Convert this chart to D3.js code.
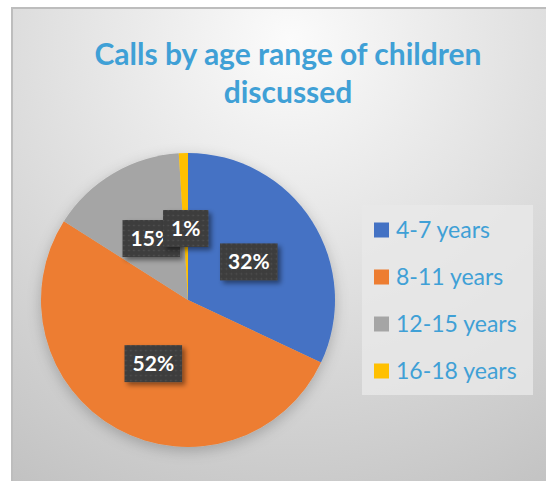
<!DOCTYPE html>
<html lang="en">
<head>
    <meta charset="UTF-8">
    <title>Calls by age range of children discussed</title>
    <style>
        body {
            margin: 0;
            padding: 0;
            background: #fff;
        }

        svg {
            display: block;
        }

        .title {
            font-family: Lato, "Open Sans", sans-serif;
            font-weight: bold;
            font-size: 30px;
            fill: #3fa0d6;
            text-anchor: middle;
        }

        .legend-text {
            font-family: Lato, "Open Sans", sans-serif;
            font-size: 23px;
            fill: #3fa0d6;
        }

        .pct {
            font-family: Lato, "Open Sans", sans-serif;
            font-weight: bold;
            font-size: 21px;
            fill: #fff;
            text-anchor: middle;
        }
    </style>
</head>
<body>
    <svg width="546" height="481"></svg>

    <script src="https://d3js.org/d3.v7.min.js"></script>
    <script>
        // chart data
        const categories = ["4-7 years", "8-11 years", "12-15 years", "16-18 years"];
        const values = [32, 52, 15, 1];
        const pctLabels = ["32%", "52%", "15%", "1%"];
        const colors = ["#4472c4", "#ed7d31", "#a5a5a5", "#ffc000"];

        const svg = d3.select("svg");
        const defs = svg.append("defs");

        // background gradient, light at the top, grey round the edges
        const bg = defs.append("radialGradient")
            .attr("id", "bg")
            .attr("gradientUnits", "userSpaceOnUse")
            .attr("cx", 290).attr("cy", 40).attr("r", 520);
        bg.append("stop").attr("offset", "0%").attr("stop-color", "#fbfbfb");
        bg.append("stop").attr("offset", "55%").attr("stop-color", "#dcdcdc");
        bg.append("stop").attr("offset", "100%").attr("stop-color", "#c2c2c2");

        // soft shadow for the pie and the label boxes
        const shadow = defs.append("filter").attr("id", "shadow")
            .attr("x", "-20%").attr("y", "-20%").attr("width", "140%").attr("height", "150%");
        shadow.append("feDropShadow")
            .attr("dx", 0).attr("dy", 4).attr("stdDeviation", 7)
            .attr("flood-color", "#000").attr("flood-opacity", 0.22);

        const boxShadow = defs.append("filter").attr("id", "boxShadow")
            .attr("x", "-30%").attr("y", "-30%").attr("width", "170%").attr("height", "180%");
        boxShadow.append("feDropShadow")
            .attr("dx", 3).attr("dy", 3).attr("stdDeviation", 2.5)
            .attr("flood-color", "#000").attr("flood-opacity", 0.45);

        // dotted dark fill of the label boxes
        const dots = defs.append("pattern")
            .attr("id", "dots")
            .attr("patternUnits", "userSpaceOnUse")
            .attr("width", 5).attr("height", 5);
        dots.append("rect").attr("width", 5).attr("height", 5).attr("fill", "#3e3e3e");
        dots.append("circle").attr("cx", 2.5).attr("cy", 2.5).attr("r", 0.8).attr("fill", "#525252");

        // chart frame
        svg.append("rect")
            .attr("x", 12).attr("y", 8)
            .attr("width", 545).attr("height", 485)
            .attr("fill", "url(#bg)")
            .attr("stroke", "#bdbdbd")
            .attr("stroke-width", 2);

        // title
        const title = svg.append("text").attr("class", "title")
            .attr("x", 288).attr("y", 65);
        title.append("tspan").attr("x", 288).text("Calls by age range of children");
        title.append("tspan").attr("x", 288).attr("dy", 38).text("discussed");

        // pie
        const cx = 188, cy = 300, radius = 147;
        const pie = d3.pie().sort(null).value(d => d)(values);
        const arc = d3.arc().innerRadius(0).outerRadius(radius);

        const g = svg.append("g").attr("transform", `translate(${cx},${cy})`);

        g.append("g").attr("filter", "url(#shadow)")
            .selectAll("path")
            .data(pie)
            .enter()
            .append("path")
            .attr("d", arc)
            .attr("fill", (d, i) => colors[i]);

        // data labels in dark boxes
        const labels = g.selectAll("g.lab")
            .data(pie)
            .enter()
            .append("g")
            .attr("class", "lab")
            .attr("transform", d => {
                const c = arc.centroid(d);
                return `translate(${c[0] * 0.98},${c[1] * 0.98})`;
            });

        labels.each(function (d, i) {
            const sel = d3.select(this);
            const rect = sel.append("rect").attr("fill", "url(#dots)").attr("filter", "url(#boxShadow)");
            const t = sel.append("text").attr("class", "pct").attr("y", 8).text(pctLabels[i]);
            const w = t.node().getComputedTextLength() + 16;
            rect.attr("x", -w / 2).attr("y", -18).attr("width", w).attr("height", 37);
        });

        // legend
        svg.append("rect")
            .attr("x", 362).attr("y", 205)
            .attr("width", 171).attr("height", 190)
            .attr("fill", "#e9e9e9")
            .attr("opacity", 0.8);

        const legend = svg.selectAll("g.leg")
            .data(categories)
            .enter()
            .append("g")
            .attr("class", "leg")
            .attr("transform", (d, i) => `translate(374,${230 + i * 47})`);

        legend.append("rect")
            .attr("x", 0).attr("y", -7.5)
            .attr("width", 15).attr("height", 15)
            .attr("fill", (d, i) => colors[i]);

        legend.append("text")
            .attr("class", "legend-text")
            .attr("x", 22).attr("y", 8)
            .text(d => d);
    </script>
</body>
</html>
